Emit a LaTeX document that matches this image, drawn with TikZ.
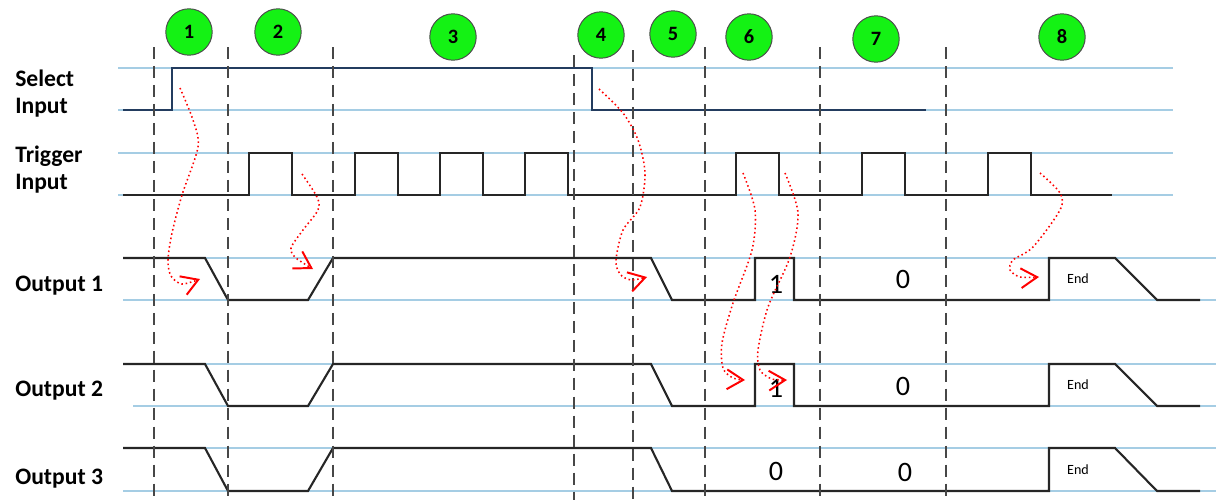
\documentclass[tikz,border=0pt]{standalone}
\usepackage{fontspec}
\setmainfont{Carlito}
\usetikzlibrary{arrows.meta}
\definecolor{refblue}{RGB}{165,205,228}
\definecolor{selblue}{RGB}{35,60,95}
\definecolor{wavegray}{RGB}{38,38,38}
\definecolor{bubblegreen}{RGB}{20,242,20}
\tikzset{
  refline/.style={refblue,line width=1.4pt},
  wave/.style={wavegray,line width=1.5pt},
  selwave/.style={selblue,line width=1.2pt},
  phase/.style={black!72,line width=1.3pt,dash pattern=on 8.5pt off 5pt},
  bubble/.style={circle,draw=black!70,line width=0.7pt,fill=bubblegreen,minimum size=33pt,inner sep=0pt,font=\bfseries\fontsize{14.5}{14.5}\selectfont},
  signame/.style={anchor=base west,inner sep=0pt,font=\bfseries\fontsize{16.8}{19}\selectfont},
  bitval/.style={inner sep=0pt,font=\fontsize{20}{20}\selectfont},
  endtag/.style={inner sep=0pt,font=\fontsize{10}{10}\selectfont},
  cause/.style={red,dotted,line width=1.1pt,-{Straight Barb[length=11.5pt,width=14pt,line width=1.4pt]}}
}
\begin{document}
\begin{tikzpicture}[x=0.025cm,y=-0.025cm]
\useasboundingbox (0,0) rectangle (1216,500);
\def\selHi{68}\def\selLo{110}
\def\trgHi{153}\def\trgLo{195}

\foreach \y/\a/\b in {68/118/1173,110/118/1173,153/118/1173,195/118/1173,
  258/123/1216,300/123/1216,364/123/1216,406/133/1216,448/123/1216,491/123/1216}
  \draw[refline] (\a,\y) -- (\b,\y);

\draw[selwave] (123,\selLo) -- (172,\selLo) -- (172,\selHi) -- (592,\selHi) -- (592,\selLo) -- (926,\selLo);
\draw[wave] (123,\trgLo) foreach \p in {249,355,440,525,736,862,988}
  { -- (\p,\trgLo) -- (\p,\trgHi) -- (\p+43,\trgHi) -- (\p+43,\trgLo) } -- (1112,\trgLo);

\foreach \hi/\lo in {258/300,364/406}
  \draw[wave] (123,\hi) -- (205,\hi) -- (228,\lo) -- (308,\lo) -- (333,\hi) -- (651,\hi) -- (672,\lo)
    -- (755,\lo) -- (755,\hi) -- (794,\hi) -- (794,\lo) -- (1049,\lo) -- (1049,\hi) -- (1115,\hi) -- (1157,\lo) -- (1200,\lo);
\draw[wave] (123,448) -- (205,448) -- (228,491) -- (308,491) -- (333,448) -- (651,448) -- (672,491)
  -- (1049,491) -- (1049,448) -- (1115,448) -- (1157,491) -- (1200,491);

\foreach \x/\t in {154/47,228/47,333/47,574/55,633/50,705/47,820/47,946/47}
  \draw[phase] (\x,\t) -- (\x,500);

\node[bubble] (b1) at (189,32) {1};
\node[bubble] (b2) at (278,32) {2};
\node[bubble] (b3) at (453,37) {3};
\node[bubble] (b4) at (601,35) {4};
\node[bubble] (b5) at (673,34) {5};
\node[bubble] (b6) at (749,37) {6};
\node[bubble] (b7) at (876,39) {7};
\node[bubble] (b8) at (1062,37) {8};

\node[signame] (sel1) at (15,86) {Select};
\node[signame] (sel2) at (15,113) {Input};
\node[signame] (trg1) at (15,162) {Trigger};
\node[signame] (trg2) at (15,189) {Input};
\node[signame] (out1) at (15,291) {Output 1};
\node[signame] (out2) at (15,396) {Output 2};
\node[signame] (out3) at (15,484) {Output 3};

\node[bitval] (v1a) at (776,284) {1};
\node[bitval] (v2a) at (776,388) {1};
\node[bitval] (v3a) at (776,471) {0};
\node[bitval] (v1b) at (903,279) {0};
\node[bitval] (v2b) at (903,386) {0};
\node[bitval] (v3b) at (905,472) {0};
\node[endtag] (e1) at (1078,279) {End};
\node[endtag] (e2) at (1078,385) {End};
\node[endtag] (e3) at (1078,470) {End};

\coordinate (r1a) at (180,88);   \coordinate (r1b) at (200,279);
\coordinate (r2a) at (302,174);  \coordinate (r2b) at (313,269);
\coordinate (r3a) at (599,89);   \coordinate (r3b) at (647,277);
\coordinate (r4a) at (743,173);  \coordinate (r4b) at (745,380);
\coordinate (r5a) at (785,173);  \coordinate (r5b) at (787,380);
\coordinate (r6a) at (1040,173); \coordinate (r6b) at (1039,277);

\draw[cause] plot[smooth] coordinates {(r1a) (193,120) (198,147) (182,195) (172,233) (168,260) (171,276) (182,284) (r1b)};
\draw[cause] plot[smooth] coordinates {(r2a) (317,197) (318,210) (303,230) (291,248) (296,258) (r2b)};
\draw[cause] plot[smooth] coordinates {(r3a) (623,113) (638,140) (645,173) (640,207) (623,230) (616,260) (620,274) (631,280) (r3b)};
\draw[cause] plot[smooth] coordinates {(r4a) (755,210) (752,250) (733,303) (722,343) (723,368) (733,378) (r4b)};
\draw[cause] plot[smooth] coordinates {(r5a) (798,213) (790,257) (768,307) (758,350) (760,370) (772,379) (r5b)};
\draw[cause] plot[smooth] coordinates {(r6a) (1060,193) (1060,210) (1033,247) (1013,260) (1010,270) (1020,277) (r6b)};
\end{tikzpicture}
\end{document}
